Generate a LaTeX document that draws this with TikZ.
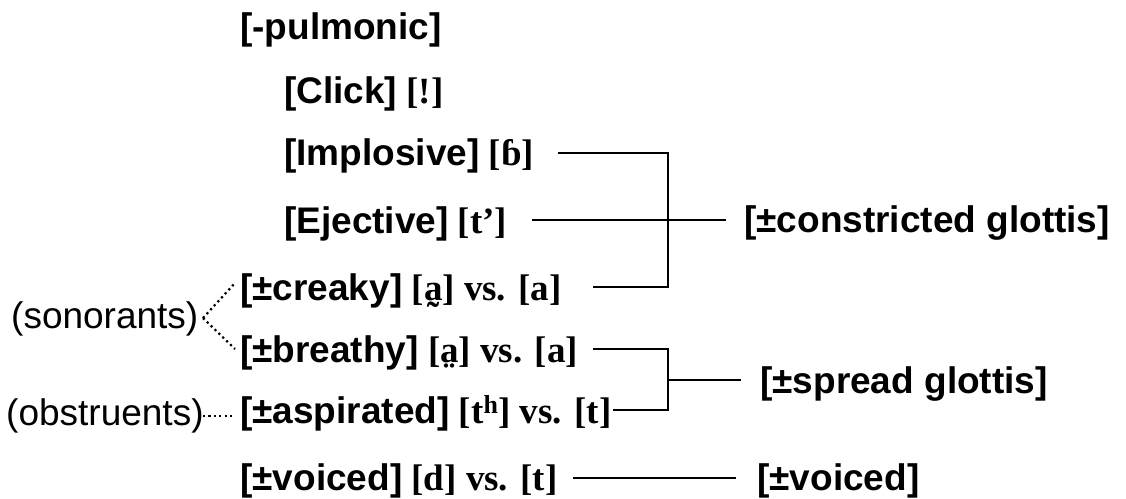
\documentclass[tikz,border=0pt]{standalone}
\usepackage{fontspec}
\setmainfont{Liberation Serif}
\setsansfont{Liberation Sans}
\newcommand\ipa[1]{{\rmfamily\bfseries #1}}
\begin{document}
\begin{tikzpicture}[x=1pt,y=-1pt,
  lab/.style={anchor=base west,inner sep=0pt,font=\fontsize{37}{44}\selectfont\sffamily\bfseries},
  side/.style={anchor=base west,inner sep=0pt,font=\fontsize{37}{44}\selectfont\sffamily},
  conn/.style={line width=2pt},
  dots/.style={line width=2.2pt,dash pattern=on 2.2pt off 3.2pt}]
\useasboundingbox (0,0) rectangle (1126,498);
% rows
\node[lab] (pul) at (240,39) {[-pulmonic]};
\node[lab] (clk) at (284,103) {[Click]\ipa{ [!]}};
\node[lab] (imp) at (284,165) {[Implosive]\ipa{ [ɓ]}};
\node[lab] (ejc) at (284,233) {[Ejective]\ipa{ [t’]}};
\node[lab] (crk) at (240,300) {[±creaky]\ipa{ [a̰] vs. [a]}};
\node[lab] (brt) at (240,362) {[±breathy]\ipa{ [a̤] vs. [a]}};
\node[lab] (asp) at (240,423) {[±aspirated]\ipa{ [t\textsuperscript{h}] vs. [t]}};
\node[lab] (voi) at (240,490) {[±voiced]\ipa{ [d] vs. [t]}};
% side labels
\node[side] (son) at (11,328) {(sonorants)};
\node[side] (obs) at (6,425) {(obstruents)};
% feature labels
\node[lab] (cg) at (744,232) {[±constricted glottis]};
\node[lab] (sg) at (760,393) {[±spread glottis]};
\node[lab] (vd) at (757,490) {[±voiced]};
% connector points
\coordinate (imp-s) at (558,153);
\coordinate (ejc-s) at (532,220);
\coordinate (crk-s) at (593,287);
\coordinate (cg-top) at (668,153);
\coordinate (cg-bot) at (668,287);
\coordinate (cg-in) at (726,220);
\coordinate (brt-s) at (593,349);
\coordinate (asp-s) at (613,410);
\coordinate (sg-top) at (668,349);
\coordinate (sg-bot) at (668,410);
\coordinate (sg-mid) at (668,380);
\coordinate (sg-in) at (741,380);
\coordinate (voi-s) at (573,478);
\coordinate (vd-in) at (736,478);
\coordinate (son-out) at (203,318);
\coordinate (crk-in) at (235,283);
\coordinate (brt-in) at (235,349);
\coordinate (obs-out) at (203,416);
\coordinate (asp-in) at (235,416);
% constricted glottis bracket
\draw[conn] (imp-s) -- (cg-top) -- (cg-bot) -- (crk-s);
\draw[conn] (ejc-s) -- (cg-in);
% spread glottis bracket
\draw[conn] (brt-s) -- (sg-top) -- (sg-bot) -- (asp-s);
\draw[conn] (sg-mid) -- (sg-in);
% voiced
\draw[conn] (voi-s) -- (vd-in);
% dotted links
\draw[dots] (son-out) -- (crk-in);
\draw[dots] (son-out) -- (brt-in);
\draw[dots] (obs-out) -- (asp-in);
\end{tikzpicture}
\end{document}
